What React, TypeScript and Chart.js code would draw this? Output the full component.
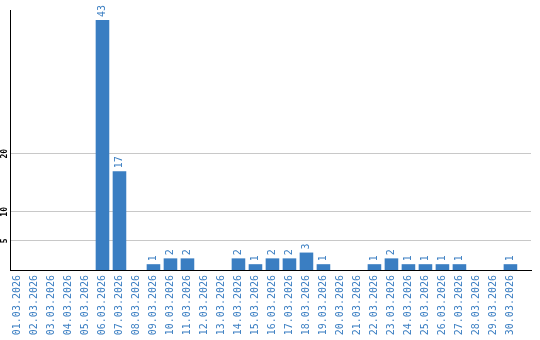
import React, { useEffect, useRef } from "react";
import { Chart, registerables } from "chart.js";

Chart.register(...registerables);

const dates: string[] = [
  "01.03.2026", "02.03.2026", "03.03.2026", "04.03.2026", "05.03.2026",
  "06.03.2026", "07.03.2026", "08.03.2026", "09.03.2026", "10.03.2026",
  "11.03.2026", "12.03.2026", "13.03.2026", "14.03.2026", "15.03.2026",
  "16.03.2026", "17.03.2026", "18.03.2026", "19.03.2026", "20.03.2026",
  "21.03.2026", "22.03.2026", "23.03.2026", "24.03.2026", "25.03.2026",
  "26.03.2026", "27.03.2026", "28.03.2026", "29.03.2026", "30.03.2026",
];
const counts: number[] = [
  0, 0, 0, 0, 0, 43, 17, 0, 1, 2,
  2, 0, 0, 2, 1, 2, 2, 3, 1, 0,
  0, 1, 2, 1, 1, 1, 1, 0, 0, 1,
];
const yTicks: number[] = [5, 10, 20];

const BLUE = "#3a7ec2";
const MONO = "'DejaVu Sans Mono', monospace";

const valueLabels = {
  id: "valueLabels",
  afterDatasetsDraw(chart: any) {
    const ctx = chart.ctx;
    const meta = chart.getDatasetMeta(0);
    ctx.save();
    ctx.fillStyle = BLUE;
    ctx.font = `10px ${MONO}`;
    ctx.textAlign = "left";
    ctx.textBaseline = "middle";
    meta.data.forEach((el: any, i: number) => {
      const v = counts[i];
      if (!v) return;
      ctx.save();
      ctx.translate(el.x, el.y - 3);
      ctx.rotate(-Math.PI / 2);
      ctx.fillText(String(v), 0, 0);
      ctx.restore();
    });
    ctx.restore();
  },
};

const yLabels = {
  id: "yLabels",
  afterDraw(chart: any) {
    const ctx = chart.ctx;
    const y = chart.scales.y;
    ctx.save();
    ctx.fillStyle = "#000";
    ctx.font = `bold 8px ${MONO}`;
    ctx.textAlign = "center";
    ctx.textBaseline = "middle";
    yTicks.forEach((t) => {
      ctx.save();
      ctx.translate(5, y.getPixelForValue(t));
      ctx.rotate(-Math.PI / 2);
      ctx.fillText(String(t), 0, 0);
      ctx.restore();
    });
    ctx.restore();
  },
};

export default function App() {
  const ref = useRef<HTMLCanvasElement | null>(null);
  useEffect(() => {
    document.body.style.margin = "0";
    if (!ref.current) return;
    const chart = new Chart(ref.current, {
      type: "bar",
      data: {
        datasets: [
          {
            data: counts.map((v, i) => ({ x: i, y: v })),
            backgroundColor: BLUE,
            borderWidth: 0,
            barPercentage: 0.8,
            categoryPercentage: 1,
          },
        ],
      },
      plugins: [valueLabels, yLabels],
      options: {
        responsive: false,
        animation: false,
        layout: { padding: { top: 10, right: 9, left: 0, bottom: 0 } },
        plugins: { legend: { display: false }, tooltip: { enabled: false } },
        scales: {
          x: {
            type: "linear",
            min: -0.44,
            max: 30.21,
            offset: false,
            grid: { display: false, drawTicks: false },
            border: { display: true, color: "#000", width: 1 },
            afterBuildTicks: (scale: any) => {
              scale.ticks = dates.map((_, i) => ({ value: i }));
            },
            afterFit: (scale: any) => {
              scale.height = 70;
            },
            ticks: {
              autoSkip: false,
              minRotation: 90,
              maxRotation: 90,
              padding: 5,
              color: BLUE,
              font: { family: MONO, size: 10 },
              callback: (v: any) => dates[v] ?? "",
            },
          },
          y: {
            min: 0,
            max: 44.72,
            afterBuildTicks: (scale: any) => {
              scale.ticks = yTicks.map((v) => ({ value: v }));
            },
            afterFit: (scale: any) => {
              scale.width = 10;
            },
            grid: { display: true, color: "#c8c8c8", drawTicks: false, lineWidth: 1 },
            border: { display: true, color: "#000", width: 1 },
            ticks: { display: false },
          },
        },
      },
    } as any);
    return () => chart.destroy();
  }, []);
  return (
    <div style={{ position: "absolute", left: 0, top: 0, width: 540, height: 340 }}>
      <canvas ref={ref} width={540} height={340} />
    </div>
  );
}
